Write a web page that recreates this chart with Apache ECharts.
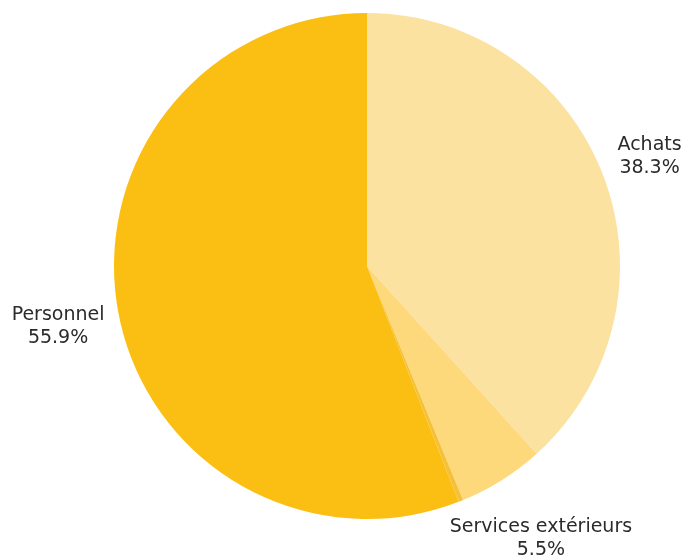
<!DOCTYPE html>
<html>
<head>
<meta charset="utf-8">
<script src="https://cdn.jsdelivr.net/npm/echarts@6/dist/echarts.min.js"></script>
<style>
  html, body { margin: 0; padding: 0; background: #fff; }
  #chart { width: 687px; height: 556px; }
</style>
</head>
<body>
<div id="chart"></div>
<script>
    'use strict';

    // répartition des charges (%)
    var names  = ['Achats', 'Services extérieurs', 'Autres', 'Personnel'];
    var values = [38.3, 5.5, 0.3, 55.9];
    var colors = ['#fce2a0', '#fed97b', '#f5c13a', '#fbbf14'];
    var hiddenLabels = ['Autres'];

    var center = [367, 266];
    var radius = 253;
    var gap = 9;
    // petits décalages des étiquettes (px)
    var labelNudge = {
        'Achats': [6, 8],
        'Services extérieurs': [-57, 28],
        'Personnel': [-5, -11]
    };

    var total = values.reduce(function(a, b) { return a + b; }, 0);
    var midAngles = [];
    var acc = 0;
    values.forEach(function(v) {
        midAngles.push((acc + v / 2) / total * Math.PI * 2);
        acc += v;
    });

    var chart = echarts.init(document.getElementById('chart'));

    chart.setOption({
        animation: false,
        series: [{
            type: 'pie',
            center: center,
            radius: radius,
            startAngle: 90,
            clockwise: true,
            avoidLabelOverlap: false,
            percentPrecision: 1,
            emphasis: { scale: false },
            label: {
                show: true,
                position: 'outside',
                formatter: '{b}\n{d}%',
                overflow: 'none',
                fontFamily: 'DejaVu Sans',
                fontSize: 19,
                lineHeight: 23,
                color: '#2b2b2b'
            },
            labelLine: { show: false },
            labelLayout: function(p) {
                var a = midAngles[p.dataIndex];
                var ux = Math.sin(a), uy = -Math.cos(a);
                var r = radius + gap;
                var px = center[0] + r * ux;
                var py = center[1] + r * uy;
                var w = p.labelRect.width, h = p.labelRect.height;
                var nudge = labelNudge[names[p.dataIndex]] || [0, 0];
                return {
                    x: px + (ux >= 0 ? 1 : -1) * w / 2 + nudge[0],
                    y: py + (uy >= 0 ? 1 : -1) * h / 2 + nudge[1],
                    align: 'center',
                    verticalAlign: 'middle'
                };
            },
            data: names.map(function(n, i) {
                return {
                    name: n,
                    value: values[i],
                    itemStyle: { color: colors[i] },
                    label: { show: hiddenLabels.indexOf(n) < 0 }
                };
            })
        }]
    });
</script>
</body>
</html>
